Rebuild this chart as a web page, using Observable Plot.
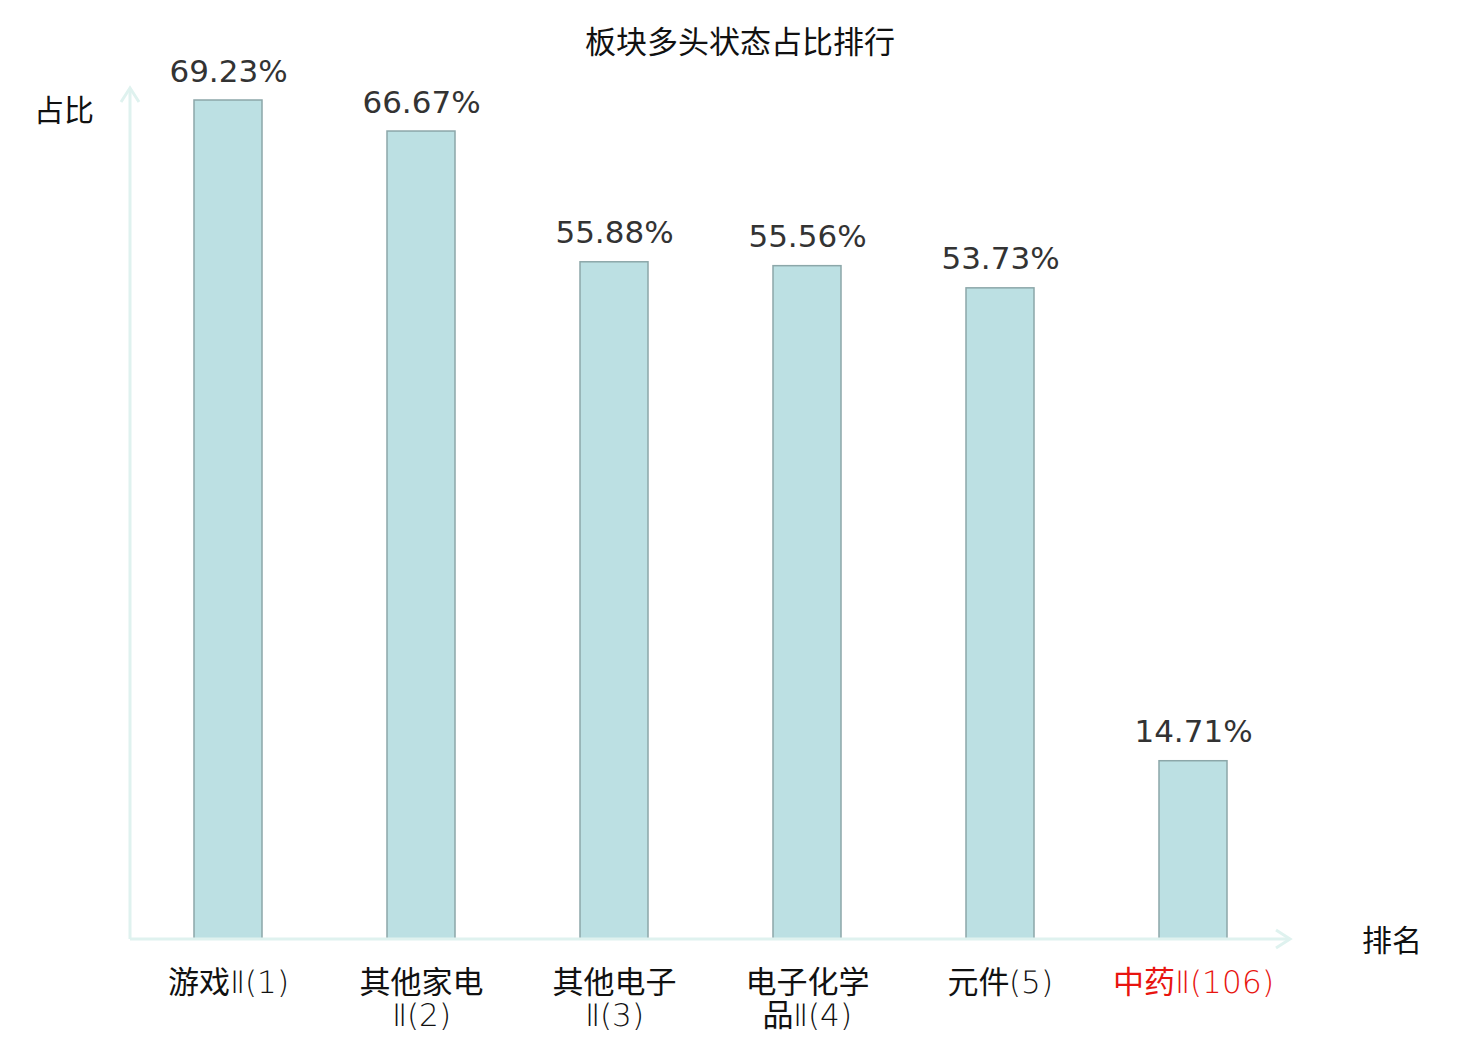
<!DOCTYPE html>
<html>
<head>
<meta charset="utf-8">
<script src="https://cdn.jsdelivr.net/npm/d3@7"></script>
<script src="https://cdn.jsdelivr.net/npm/@observablehq/plot@0.6"></script>
<style>
  html, body { margin: 0; padding: 0; background: #fff; }
  #chart { width: 1480px; height: 1040px; }
  @font-face {
    font-family: "TickLatin";
    src: local("DejaVu Sans ExtraLight"), local("DejaVuSans-ExtraLight"), local("Noto Sans CJK SC Light"), local("NotoSansCJKsc-Light"), local("Noto Sans CJK SC");
    unicode-range: U+0020-007F;
  }
  @font-face {
    font-family: "TickLatin";
    src: local("DejaVu Sans ExtraLight"), local("DejaVuSans-ExtraLight"), local("DejaVu Sans");
    unicode-range: U+2160-216F;
  }
</style>
</head>
<body>
<div id="chart"></div>
<script>
const titleText = "板块多头状态占比排行";
const yLabel = "占比";
const xLabel = "排名";
const categories = ["游戏Ⅱ(1)", "其他家电Ⅱ(2)", "其他电子Ⅱ(3)", "电子化学品Ⅱ(4)", "元件(5)", "中药Ⅱ(106)"];
const tickLabels = ["游戏Ⅱ(1)", "其他家电\nⅡ(2)", "其他电子\nⅡ(3)", "电子化学\n品Ⅱ(4)", "元件(5)", "中药Ⅱ(106)"];
const values = [69.23, 66.67, 55.88, 55.56, 53.73, 14.71];
const highlighted = ["中药Ⅱ(106)"];

const data = categories.map((c, i) => ({cat: c, label: tickLabels[i], value: values[i], hi: highlighted.includes(c)}));

const font = "'DejaVu Sans', 'Noto Sans CJK SC', sans-serif";
const cjkFont = "'Noto Sans CJK SC', 'DejaVu Sans', sans-serif";
const tickFont = "TickLatin, 'Noto Sans CJK SC', 'DejaVu Sans', sans-serif";
const axisColor = "#dff2ef";

function axesMark(index, scales, values, dim) {
  const g = d3.create("svg:g");
  const x0 = dim.marginLeft, x1 = dim.width - dim.marginRight;
  const y0 = dim.height - dim.marginBottom, yTop = dim.marginTop - 12;
  const xEnd = x1;
  g.append("line").attr("x1", x0).attr("x2", xEnd).attr("y1", y0).attr("y2", y0)
    .attr("stroke", axisColor).attr("stroke-width", 3);
  g.append("polyline").attr("points", `${xEnd - 14},${y0 - 9} ${xEnd},${y0} ${xEnd - 14},${y0 + 9}`)
    .attr("fill", "none").attr("stroke", axisColor).attr("stroke-width", 3);
  g.append("line").attr("x1", x0).attr("x2", x0).attr("y1", y0).attr("y2", yTop)
    .attr("stroke", axisColor).attr("stroke-width", 3);
  g.append("polyline").attr("points", `${x0 - 9},${yTop + 14} ${x0},${yTop} ${x0 + 9},${yTop + 14}`)
    .attr("fill", "none").attr("stroke", axisColor).attr("stroke-width", 3);
  g.append("text").attr("x", x0 - 36).attr("y", dim.marginTop + 21).attr("text-anchor", "end")
    .attr("font-family", cjkFont).attr("font-size", 30).attr("fill", "#111").text(yLabel);
  g.append("text").attr("x", x1 + 102).attr("y", y0 + 12).attr("text-anchor", "middle")
    .attr("font-family", cjkFont).attr("font-size", 30).attr("fill", "#111").text(xLabel);
  g.append("text").attr("x", dim.width / 2).attr("y", 53).attr("text-anchor", "middle")
    .attr("font-family", cjkFont).attr("font-size", 31).attr("fill", "#111").text(titleText);
  return g.node();
}

const chart = Plot.plot({
  width: 1480,
  height: 1040,
  marginLeft: 130,
  marginRight: 190,
  marginTop: 100,
  marginBottom: 101,
  style: {background: "#fff"},
  x: {domain: categories, paddingInner: 0.648, paddingOuter: 0.324, axis: null},
  y: {domain: [0, d3.max(values)], axis: null},
  marks: [
    Plot.barY(data, {x: "cat", y: "value", fill: "#bce0e3", stroke: "#8ca7a9", strokeWidth: 1.5}),
    Plot.text(data, {x: "cat", y: "value", text: d => d.value.toFixed(2) + "%", lineAnchor: "bottom", dy: -19,
      fontSize: 31, fontFamily: font, fill: "#333"}),
    Plot.text(data.filter(d => !d.hi), {x: "cat", y: 0, text: "label", lineAnchor: "top", dy: 31,
      fontSize: 31, fontFamily: tickFont, fill: "#111", lineHeight: 1.04}),
    Plot.text(data.filter(d => d.hi), {x: "cat", y: 0, text: "label", lineAnchor: "top", dy: 31,
      fontSize: 31, fontFamily: tickFont, fill: "#e8140f", lineHeight: 1.04}),
    axesMark
  ]
});
document.getElementById("chart").appendChild(chart);
</script>
</body>
</html>
